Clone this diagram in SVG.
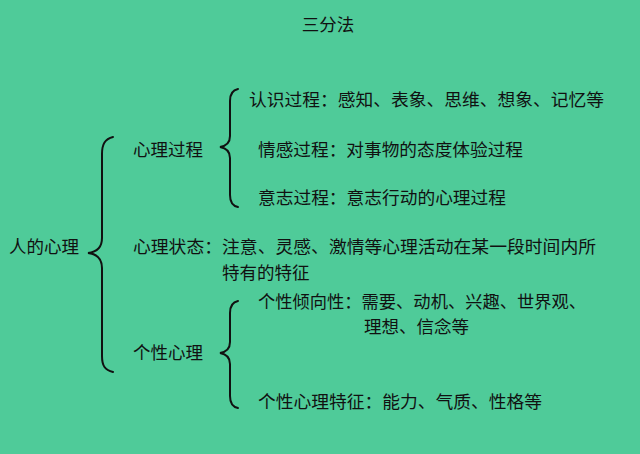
<svg xmlns="http://www.w3.org/2000/svg" width="640" height="454" viewBox="0 0 640 454">
<style>
.t{font-family:"Noto Sans CJK SC","Noto Sans CJK TC",sans-serif;font-size:17.5px;fill:#111;}
.b{fill:none;stroke:#111;stroke-width:2;stroke-linecap:round;}
</style>
<rect width="640" height="454" fill="#4fcb99"/>
<g id="title"><text class="t" x="328" y="31" text-anchor="middle">三分法</text></g>
<g id="connectors">
<path class="b" d="M113,137 C105,139 102,144 102,154 L102,238 C102,247 97,252 88,253 C97,254 102,259 102,268 L102,356 C102,366 105,370 113,372"/>
<path class="b" d="M238,89 C233,90 230,94 230,101 L230,136 C230,143 226,146 220,147 C226,148 230,151 230,158 L230,195 C230,202 233,206 238,207"/>
<path class="b" d="M238,301 C233,302 230,306 230,313 L230,342 C230,349 226,352 220,353 C226,354 230,357 230,364 L230,396 C230,403 233,407 238,408"/>
</g>
<g id="root"><text class="t" x="9" y="253">人的心理</text></g>
<g id="xlgc"><text class="t" x="133" y="156">心理过程</text></g>
<g id="rsgc"><text class="t" x="249" y="106" textLength="355" lengthAdjust="spacingAndGlyphs">认识过程：感知、表象、思维、想象、记忆等</text></g>
<g id="qggc"><text class="t" x="258" y="156" textLength="265" lengthAdjust="spacingAndGlyphs">情感过程：对事物的态度体验过程</text></g>
<g id="yzgc"><text class="t" x="258" y="204" textLength="248" lengthAdjust="spacingAndGlyphs">意志过程：意志行动的心理过程</text></g>
<g id="xlzt"><text class="t" x="133" y="253" textLength="463" lengthAdjust="spacingAndGlyphs">心理状态：注意、灵感、激情等心理活动在某一段时间内所</text><text class="t" x="222" y="279">特有的特征</text></g>
<g id="gxxl"><text class="t" x="133" y="359">个性心理</text></g>
<g id="gxqxx"><text class="t" x="258" y="308" textLength="328" lengthAdjust="spacingAndGlyphs">个性倾向性：需要、动机、兴趣、世界观、</text><text class="t" x="364" y="333">理想、信念等</text></g>
<g id="gxxltz"><text class="t" x="258" y="408" textLength="284" lengthAdjust="spacingAndGlyphs">个性心理特征：能力、气质、性格等</text></g>
</svg>
